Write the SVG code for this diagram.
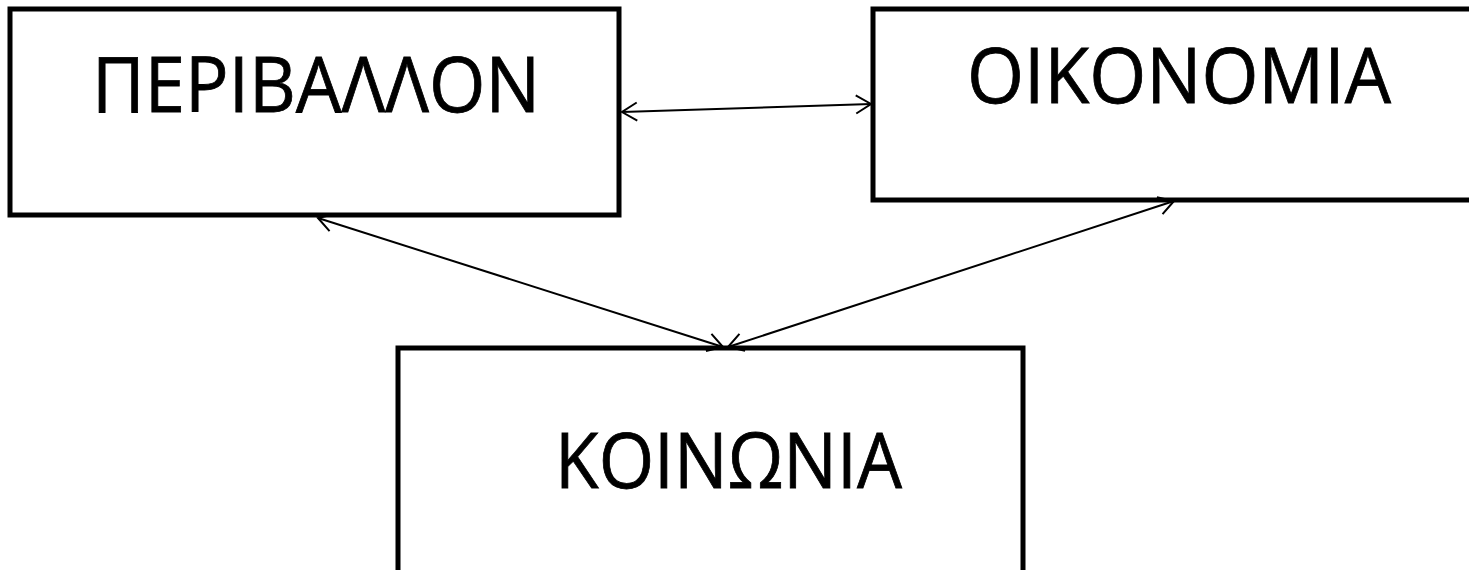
<svg xmlns="http://www.w3.org/2000/svg" width="1469" height="570" viewBox="0 0 1469 570">
  <defs>
    <style>
      .box { fill: #ffffff; stroke: #000000; stroke-width: 5; }
      .lbl { font-family: "Open Sans", "Noto Sans", "DejaVu Sans", sans-serif; font-size: 76px; fill: #000000; stroke: #000000; stroke-width: 0.8; }
      .conn { stroke: #000000; stroke-width: 2; fill: none; marker-start: url(#arr); marker-end: url(#arr); }
    </style>
    <marker id="arr" markerUnits="userSpaceOnUse" markerWidth="22" markerHeight="22" viewBox="-18 -11 20 22" refX="0" refY="0" orient="auto-start-reverse">
      <path d="M -15 -9 L 0 0 L -15 9" fill="none" stroke="#000000" stroke-width="2"/>
    </marker>
  </defs>
  <rect x="0" y="0" width="1469" height="570" fill="#ffffff"/>
  <g id="node-perivallon">
    <rect class="box" x="10" y="9" width="609" height="206"/>
    <text class="lbl" x="92" y="112" textLength="448" lengthAdjust="spacingAndGlyphs">ΠΕΡΙΒΑΛΛΟΝ</text>
  </g>
  <g id="node-oikonomia">
    <rect class="box" x="873" y="9" width="620" height="191"/>
    <text class="lbl" x="967" y="103" textLength="424" lengthAdjust="spacingAndGlyphs">OIKONOMIA</text>
  </g>
  <g id="node-koinonia">
    <rect class="box" x="398" y="348" width="625" height="250"/>
    <text class="lbl" x="555" y="488" textLength="347" lengthAdjust="spacingAndGlyphs">KOINΩNIA</text>
  </g>
  <g id="connectors">
    <line class="conn" x1="622" y1="112" x2="871" y2="104"/>
    <line class="conn" x1="318" y1="218" x2="723" y2="347"/>
    <line class="conn" x1="728" y1="347" x2="1174" y2="201"/>
  </g>
</svg>
